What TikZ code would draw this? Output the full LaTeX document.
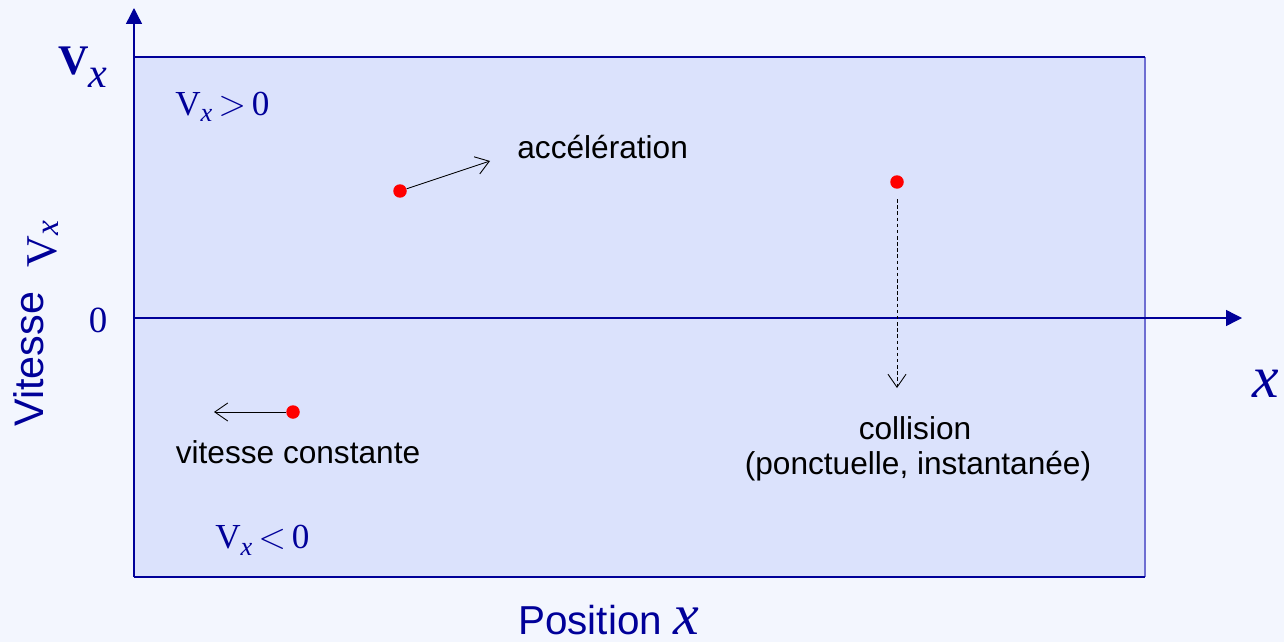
\documentclass[tikz,border=0pt]{standalone}
\usepackage{fontspec}
\setmainfont{Liberation Serif}
\newfontfamily\arialfont{Liberation Sans}
\usetikzlibrary{arrows.meta}
\definecolor{dblue}{RGB}{0,0,153}
\definecolor{boxfill}{RGB}{219,226,252}
\definecolor{bgfill}{RGB}{243,246,254}
\definecolor{boxedge}{RGB}{110,110,210}

\begin{document}
\begin{tikzpicture}[x=0.02cm,y=-0.02cm,
    lbl/.style={font=\arialfont\fontsize{18}{20}\selectfont,inner sep=0pt},
    axlbl/.style={text=dblue,inner sep=0pt},
    dot/.style={circle,fill=red,inner sep=0pt,minimum size=0.27cm},
    axis/.style={dblue,line width=0.8pt,-{Triangle[length=3.2mm,width=3.2mm]}},
    barb/.style={line width=0.5pt,-{Straight Barb[length=2.6mm,width=3.6mm]}}]
  \fill[bgfill] (0,0) rectangle (1284,642);
  \useasboundingbox (0,0) rectangle (1284,642);
  % phase space box
  \fill[boxfill] (134,57) rectangle (1145,577);
  \draw[boxedge,line width=1pt] (1145,57) -- (1145,577);
  \draw[dblue,line width=1pt] (134,57) -- (1145,57);
  \draw[dblue,line width=1pt] (134,577) -- (1145,577);
  \coordinate (orig) at (134,577);
  \coordinate (ytip) at (134,8);
  \coordinate (zero) at (134,318);
  \coordinate (xtip) at (1242,318);
  \draw[axis] (orig) -- (ytip);
  \draw[axis] (zero) -- (xtip);
  % axis labels
  \node[axlbl,anchor=base west,font=\fontsize{24}{26}\selectfont] (vtop) at (58,75)
    {{\bfseries V}\raisebox{-0.26cm}{\itshape x}};
  \node[axlbl,font=\fontsize{21}{24}\selectfont] (zlab) at (98,320) {0};
  \node[axlbl,anchor=base west,font=\fontsize{34}{36}\selectfont\itshape] (xlab) at (1252,397) {x};
  \node[axlbl,rotate=90,anchor=base west,font=\arialfont\fontsize{23.5}{26}\selectfont] (ylab) at (43,427)
    {Vitesse\hspace{0.5cm}\raisebox{-0.28cm}{\rmfamily\fontsize{25}{27}\selectfont V\raisebox{-0.03cm}{\fontsize{19}{20}\selectfont\itshape x}}};
  \node[axlbl,anchor=base west,font=\arialfont\fontsize{23}{26}\selectfont] (poslab) at (518,634)
    {Position\ {\rmfamily\itshape\fontsize{33}{36}\selectfont x}};
  \node[axlbl,anchor=base west,font=\fontsize{20}{22}\selectfont] (vpos) at (175,115)
    {V\raisebox{-0.14cm}{\fontsize{15}{16}\selectfont\itshape x}\,$>$\,0};
  \node[axlbl,anchor=base west,font=\fontsize{20}{22}\selectfont] (vneg) at (215,548)
    {V\raisebox{-0.14cm}{\fontsize{15}{16}\selectfont\itshape x}\,$<$\,0};
  % example trajectories
  \node[dot] (acc) at (400,191) {};
  \coordinate (acctip) at (490,161);
  \draw[barb] (acc) -- (acctip);
  \node[lbl,anchor=base west] (acclab) at (517,158) {accélération};
  \node[dot] (coll) at (897,182) {};
  \coordinate (colltip) at (897,388);
  \draw[barb,dash pattern=on 2pt off 1.5pt,shorten <=0.2cm] (coll) -- (colltip);
  \node[lbl] (colllab) at (915,428) {collision};
  \node[lbl] (colltxt) at (918,466) {(ponctuelle, instantanée)};
  \node[dot] (cst) at (293,412) {};
  \coordinate (csttip) at (214,412);
  \draw[barb] (cst) -- (csttip);
  \node[lbl] (cstlab) at (298,452) {vitesse constante};
\end{tikzpicture}
\end{document}
